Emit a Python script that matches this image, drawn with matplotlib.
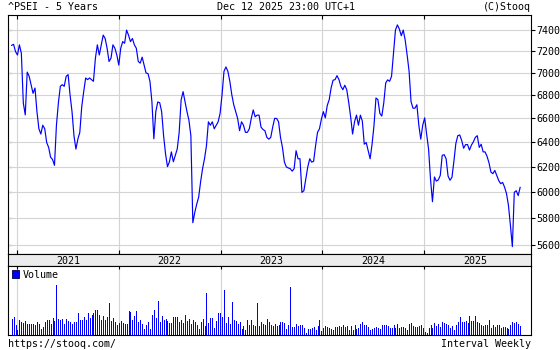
import pandas as pd
import matplotlib.pyplot as plt
from matplotlib.patches import Patch
from matplotlib.ticker import NullLocator, FixedFormatter

# weekly closes of ^PSEI (Dec 2020 .. Dec 2025)
close = [
    7255, 7265, 7197, 7165, 7260, 7180, 6733, 6630, 7008, 6970, 6895, 6818, 6865, 6658,
    6512, 6468, 6542, 6512, 6397, 6357, 6277, 6258, 6211, 6542, 6733, 6880, 6895, 6880,
    6970, 6985, 6803, 6658, 6454, 6343, 6425, 6482, 6703, 6833, 6955, 6940, 6955, 6940,
    6925, 7135, 7260, 7165, 7260, 7352, 7320, 7228, 7105, 7135, 7260, 7228, 7165, 7072,
    7228, 7290, 7275, 7400, 7352, 7290, 7320, 7260, 7228, 7105, 7090, 7145, 7072, 7000,
    6994, 6925, 6745, 6428, 6658, 6742, 6736, 6658, 6454, 6304, 6200, 6240, 6320, 6240,
    6292, 6343, 6482, 6760, 6833, 6745, 6658, 6585, 6454, 5766, 5843, 5906, 5960, 6080,
    6184, 6264, 6370, 6571, 6542, 6571, 6512, 6542, 6571, 6643, 6806, 7015, 7055, 7015,
    6925, 6806, 6718, 6658, 6600, 6496, 6571, 6542, 6482, 6482, 6512, 6600, 6673, 6614,
    6628, 6628, 6526, 6506, 6496, 6440, 6425, 6440, 6526, 6600, 6600, 6571, 6440, 6357,
    6237, 6198, 6190, 6184, 6164, 6184, 6330, 6264, 6264, 5997, 6010, 6105, 6198, 6264,
    6237, 6243, 6370, 6482, 6512, 6594, 6658, 6605, 6712, 6762, 6868, 6935, 6940, 6976,
    6940, 6880, 6850, 6890, 6850, 6740, 6614, 6468, 6571, 6628, 6542, 6628, 6577, 6383,
    6397, 6330, 6264, 6383, 6542, 6777, 6762, 6643, 6620, 6733, 6910, 6938, 6925, 6970,
    7180, 7400, 7450, 7410, 7346, 7400, 7305, 7165, 7015, 6745, 6688, 6688, 6718, 6542,
    6425, 6542, 6605, 6468, 6343, 6100, 5925, 6118, 6085, 6095, 6130, 6292, 6297, 6264,
    6125, 6092, 6115, 6243, 6389, 6454, 6460, 6414, 6350, 6380, 6380, 6335, 6376, 6403,
    6440, 6454, 6357, 6383, 6320, 6320, 6284, 6232, 6157, 6144, 6170, 6130, 6090, 6065,
    6075, 6038, 5987, 5897, 5747, 5590, 5998, 6010, 5972, 6036,
]

# weekly volume (relative units, no scale shown on the chart)
volume = [
    47, 53, 29, 15, 44, 39, 35, 41, 32, 32, 32, 32, 30, 37, 32, 19, 25, 37, 44, 44,
    32, 50, 42, 147, 47, 45, 47, 32, 47, 42, 39, 32, 39, 39, 65, 44, 44, 54, 44, 65,
    49, 60, 64, 74, 74, 59, 45, 56, 45, 52, 95, 40, 50, 39, 30, 36, 42, 34, 32, 32,
    71, 69, 44, 55, 71, 39, 44, 32, 17, 29, 39, 17, 59, 75, 50, 101, 39, 56, 44, 47,
    42, 35, 35, 53, 53, 53, 39, 44, 35, 59, 42, 47, 32, 44, 37, 29, 17, 37, 47, 27,
    125, 35, 50, 50, 22, 40, 65, 65, 52, 131, 35, 53, 32, 98, 44, 41, 31, 37, 17, 27,
    15, 44, 30, 44, 29, 27, 95, 27, 37, 33, 28,
    47, 38, 29, 27, 32, 27, 30, 38, 38, 35, 17, 30, 140, 23, 23, 32, 27, 29, 29, 20,
    5, 17, 17, 20, 23, 14, 26, 44, 11, 21, 26, 24, 21, 19, 15, 23, 23, 26, 23, 29,
    25, 27, 15, 27, 15, 29, 17, 21, 32, 38, 30, 30, 24, 15, 17, 21, 23, 21, 17, 29,
    29, 30, 26, 21, 20, 29, 20, 32, 21, 25, 23, 21, 14, 32, 35, 26, 23, 23, 26, 29,
    22, 8, 5, 20, 29, 21, 35, 26, 32, 24, 38, 35, 32, 29, 21, 26, 14, 29, 38, 53,
    38, 39, 41, 35, 56, 41, 41, 56, 38, 35, 30, 26, 29, 29, 44, 20, 29, 23, 29, 29,
    20, 23, 23, 21, 17, 29, 38, 35, 38, 32, 26,
]

dates = pd.date_range(end='2025-12-12', periods=len(close), freq='W-FRI')
price_ticks = [5600, 5800, 6000, 6200, 6400, 6600, 6800, 7000, 7200, 7400]
years = [2021, 2022, 2023, 2024, 2025]

year_starts = [pd.Timestamp(f'{y}-01-01') for y in years]
year_mids = [pd.Timestamp(f'{y}-07-02') for y in years]
xlim = (pd.Timestamp('2020-11-28'), pd.Timestamp('2026-01-20'))

MONO = 'DejaVu Sans Mono'
FS = 7.2
BLUE = '#0000ff'
GRID = '#d4d4d4'
W, H = 560, 350


def box(l, t, r, b):
    return [l / W, 1 - b / H, (r - l) / W, (b - t) / H]


fig = plt.figure(figsize=(5.6, 3.5), dpi=100)

# price panel
ax = fig.add_axes(box(8, 15, 531, 254))
ax.plot(dates, close, color=BLUE, lw=0.85)
ax.set_yscale('log')
ax.set_ylim(5537, 7546)
ax.set_xlim(*xlim)
ax.set_yticks(price_ticks)
ax.yaxis.set_major_formatter(FixedFormatter([str(v) for v in price_ticks]))
ax.yaxis.set_minor_locator(NullLocator())
ax.yaxis.tick_right()
ax.tick_params(axis='y', direction='out', length=3, width=0.8, pad=1,
               labelsize=FS, labelfontfamily=MONO)
ax.set_xticks(year_starts)
ax.tick_params(axis='x', direction='in', length=3, width=0.8, top=True,
               bottom=True, labelbottom=False)
ax.grid(color=GRID, lw=0.8)
ax.set_axisbelow(True)

# inward ticks on the left edge
sec = ax.secondary_yaxis('left')
sec.set_yticks(price_ticks)
sec.yaxis.set_minor_locator(NullLocator())
sec.tick_params(direction='in', length=3, width=0.8, labelleft=False)
sec.spines['left'].set_visible(False)

# year band
band = fig.add_axes(box(8, 254, 531, 266))
band.set_facecolor('#ececec')
band.set_xlim(*xlim)
band.set_xticks([])
band.set_yticks([])
for d, y in zip(year_mids, years):
    band.text(d, 0.45, str(y), ha='center', va='center', family=MONO, size=FS,
              transform=band.get_xaxis_transform())

# volume panel: one thin bar per week
axv = fig.add_axes(box(8, 266, 531, 335))
axv.vlines(dates, 0, volume, color=BLUE, lw=0.55, antialiased=False)
axv.set_xlim(*xlim)
axv.set_ylim(0, 203)
axv.set_yticks([])
axv.set_xticks(year_starts)
axv.tick_params(axis='x', direction='in', length=2, width=0.8, top=True,
                bottom=False, labelbottom=False)
axv.grid(axis='x', color=GRID, lw=0.8)
axv.set_axisbelow(True)
axv.legend(handles=[Patch(facecolor=BLUE, edgecolor='#000044', lw=0.6)],
           labels=['Volume'], loc='upper left', frameon=False,
           handlelength=0.75, handleheight=0.75, handletextpad=0.4,
           borderaxespad=0.15, borderpad=0.2, prop={'family': MONO, 'size': FS})

for a in (ax, band, axv):
    for s in a.spines.values():
        s.set_linewidth(0.8)
        s.set_color('black')

# header and footer texts
fig.text(8 / W, 1 - 7 / H, '^PSEI - 5 Years', ha='left', va='center', family=MONO, size=FS)
fig.text(286 / W, 1 - 7 / H, 'Dec 12 2025 23:00 UTC+1', ha='center', va='center',
         family=MONO, size=FS)
fig.text(531 / W, 1 - 7 / H, '(C)Stooq', ha='right', va='center', family=MONO, size=FS)
fig.text(8 / W, 1 - 344 / H, 'https://stooq.com/', ha='left', va='center',
         family=MONO, size=FS)
fig.text(531 / W, 1 - 344 / H, 'Interval Weekly', ha='right', va='center',
         family=MONO, size=FS)

fig.savefig('out.png', dpi=100)
plt.close(fig)
